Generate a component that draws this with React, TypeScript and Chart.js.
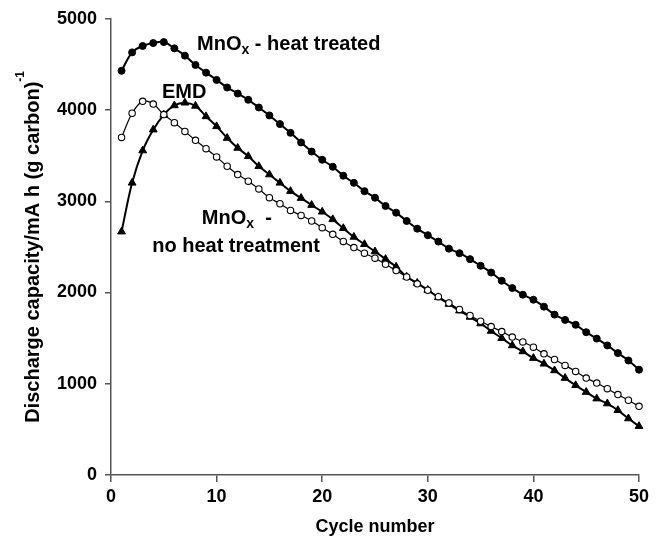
import React, { useEffect, useRef } from "react";
import { Chart, registerables } from "chart.js";

Chart.register(...registerables);

const FONT = '"Liberation Sans", Arial, Helvetica, sans-serif';

const cycles = [
  1, 2, 3, 4, 5, 6, 7, 8, 9, 10, 11, 12, 13, 14, 15, 16, 17, 18, 19, 20, 21, 22, 23, 24, 25,
  26, 27, 28, 29, 30, 31, 32, 33, 34, 35, 36, 37, 38, 39, 40, 41, 42, 43, 44, 45, 46, 47, 48, 49, 50,
];

const heatTreated = [
  4430, 4632, 4702, 4734, 4745, 4676, 4596, 4494, 4410, 4330, 4247, 4181, 4112, 4028, 3941, 3846,
  3750, 3645, 3545, 3455, 3378, 3280, 3202, 3111, 3039, 2948, 2875, 2784, 2700, 2628, 2558, 2481,
  2431, 2366, 2293, 2219, 2129, 2049, 1976, 1921, 1845, 1758, 1700, 1646, 1565, 1495, 1420, 1336,
  1255, 1154,
];

const noHeatTreatment = [
  3700, 3965, 4095, 4065, 3950, 3862, 3766, 3668, 3577, 3486, 3384, 3293, 3220, 3135, 3040, 2973,
  2900, 2845, 2784, 2711, 2638, 2560, 2493, 2431, 2376, 2310, 2240, 2170, 2095, 2025, 1955, 1885,
  1815, 1748, 1685, 1627, 1572, 1512, 1458, 1401, 1328, 1266, 1201, 1135, 1062, 1008, 946, 881,
  819, 753,
];

const emd = [
  2667, 3202, 3556, 3785, 3948, 4050, 4080, 4045, 3930, 3821, 3693, 3584, 3493, 3384, 3293, 3202,
  3111, 3035, 2958, 2885, 2802, 2704, 2609, 2529, 2449, 2366, 2282, 2172, 2104, 2027, 1947, 1874,
  1801, 1732, 1660, 1578, 1500, 1420, 1354, 1281, 1219, 1146, 1062, 983, 909, 837, 783, 710, 619,
  535,
];

const xTickValues = [0, 10, 20, 30, 40, 50];
const yTickValues = [0, 1000, 2000, 3000, 4000, 5000];

const xTitle = "Cycle number";
const yTitleMain = "Discharge capacity/mA h (g carbon)";
const yTitleSup = "-1";

const toPoints = (vals: number[]) => vals.map((v, i) => ({ x: cycles[i], y: v }));

const annotationPlugin = {
  id: "annotations",
  afterDraw(chart: any) {
    const { ctx, scales } = chart;
    const xs = scales.x;
    const ys = scales.y;
    const area = chart.chartArea;
    ctx.save();
    ctx.fillStyle = "#000";
    ctx.textBaseline = "alphabetic";
    ctx.textAlign = "left";
    const big = `bold 20px ${FONT}`;
    const small = `bold 14px ${FONT}`;

    const mnox = (px: number, py: number, rest: string) => {
      ctx.font = big;
      ctx.fillText("MnO", px, py);
      let w = ctx.measureText("MnO").width;
      ctx.font = small;
      ctx.fillText("x", px + w, py + 4);
      w += ctx.measureText("x").width;
      ctx.font = big;
      ctx.fillText(rest, px + w, py);
    };

    // Series labels (anchored in data coordinates)
    mnox(xs.getPixelForValue(8.15), ys.getPixelForValue(4660), " - heat treated");
    ctx.font = big;
    ctx.fillText("EMD", xs.getPixelForValue(4.83), ys.getPixelForValue(4127));
    mnox(xs.getPixelForValue(8.6), ys.getPixelForValue(2751), "  -");
    ctx.font = big;
    ctx.fillText("no heat treatment", xs.getPixelForValue(3.9), ys.getPixelForValue(2445));

    // X axis title
    ctx.font = `bold 18px ${FONT}`;
    ctx.textAlign = "center";
    ctx.fillText(xTitle, (area.left + area.right) / 2, 532);

    // Y axis title (rotated, with superscript)
    ctx.textAlign = "left";
    const mainFont = `bold 20px ${FONT}`;
    const supFont = `bold 12px ${FONT}`;
    ctx.font = mainFont;
    const w1 = ctx.measureText(yTitleMain).width;
    ctx.font = supFont;
    const w2 = ctx.measureText(yTitleSup).width;
    const total = w1 + w2;
    const cy = (area.top + area.bottom) / 2;
    ctx.translate(0, cy);
    ctx.rotate(-Math.PI / 2);
    ctx.font = mainFont;
    ctx.fillText(yTitleMain, -total / 2, 39);
    ctx.font = supFont;
    ctx.fillText(yTitleSup, -total / 2 + w1, 24);
    ctx.restore();
  },
};

export default function App() {
  const ref = useRef<HTMLCanvasElement | null>(null);

  useEffect(() => {
    document.body.style.margin = "0";
    const canvas = ref.current;
    if (!canvas) return;
    const tickFont = { family: FONT, size: 18, weight: "bold" as const };
    const chart = new Chart(canvas, {
      type: "line",
      data: {
        datasets: [
          {
            label: "MnOx - heat treated",
            data: toPoints(heatTreated),
            borderColor: "#000",
            backgroundColor: "#000",
            borderWidth: 2,
            pointStyle: "circle",
            pointRadius: 3.5,
            pointBorderWidth: 1,
            pointBackgroundColor: "#000",
            pointBorderColor: "#000",
            tension: 0.35,
            clip: false as any,
          },
          {
            label: "MnOx - no heat treatment",
            data: toPoints(noHeatTreatment),
            borderColor: "#000",
            backgroundColor: "#fff",
            borderWidth: 1.2,
            pointStyle: "circle",
            pointRadius: 3.2,
            pointBorderWidth: 1.1,
            pointBackgroundColor: "#fff",
            pointBorderColor: "#000",
            tension: 0.35,
            clip: false as any,
          },
          {
            label: "EMD",
            data: toPoints(emd),
            borderColor: "#000",
            backgroundColor: "#000",
            borderWidth: 2,
            pointStyle: "triangle",
            pointRadius: 4.5,
            pointBorderWidth: 1,
            pointBackgroundColor: "#000",
            pointBorderColor: "#000",
            tension: 0.35,
            clip: false as any,
          },
        ],
      },
      options: {
        animation: false,
        responsive: false,
        maintainAspectRatio: false,
        layout: { padding: { top: 17, right: 25, left: 0, bottom: 0 } },
        plugins: {
          legend: { display: false },
          tooltip: { enabled: false },
          title: { display: false },
        },
        scales: {
          x: {
            type: "linear",
            min: 0,
            max: 50,
            afterBuildTicks: (s: any) => {
              s.ticks = xTickValues.map((v) => ({ value: v }));
            },
            afterFit: (s: any) => {
              s.height = 62;
            },
            ticks: {
              font: tickFont,
              color: "#000",
              padding: 4,
              maxRotation: 0,
              autoSkip: false,
              callback: (v: any) => String(v),
            },
            grid: {
              drawOnChartArea: false,
              drawTicks: true,
              tickLength: 7,
              color: "#555",
              lineWidth: 1.5,
            },
            border: { color: "#555", width: 1.5 },
          },
          y: {
            type: "linear",
            min: 0,
            max: 5000,
            afterBuildTicks: (s: any) => {
              s.ticks = yTickValues.map((v) => ({ value: v }));
            },
            afterFit: (s: any) => {
              s.width = 111;
            },
            ticks: {
              font: tickFont,
              color: "#000",
              padding: 8,
              autoSkip: false,
              callback: (v: any) => String(v),
            },
            grid: {
              drawOnChartArea: false,
              drawTicks: true,
              tickLength: 6,
              color: "#555",
              lineWidth: 1.5,
            },
            border: { color: "#555", width: 1.5 },
          },
        },
      },
      plugins: [annotationPlugin],
    });
    return () => chart.destroy();
  }, []);

  return (
    <div style={{ width: 664, height: 537, position: "relative", background: "#fff" }}>
      <canvas ref={ref} width={664} height={537} style={{ display: "block" }} />
    </div>
  );
}
